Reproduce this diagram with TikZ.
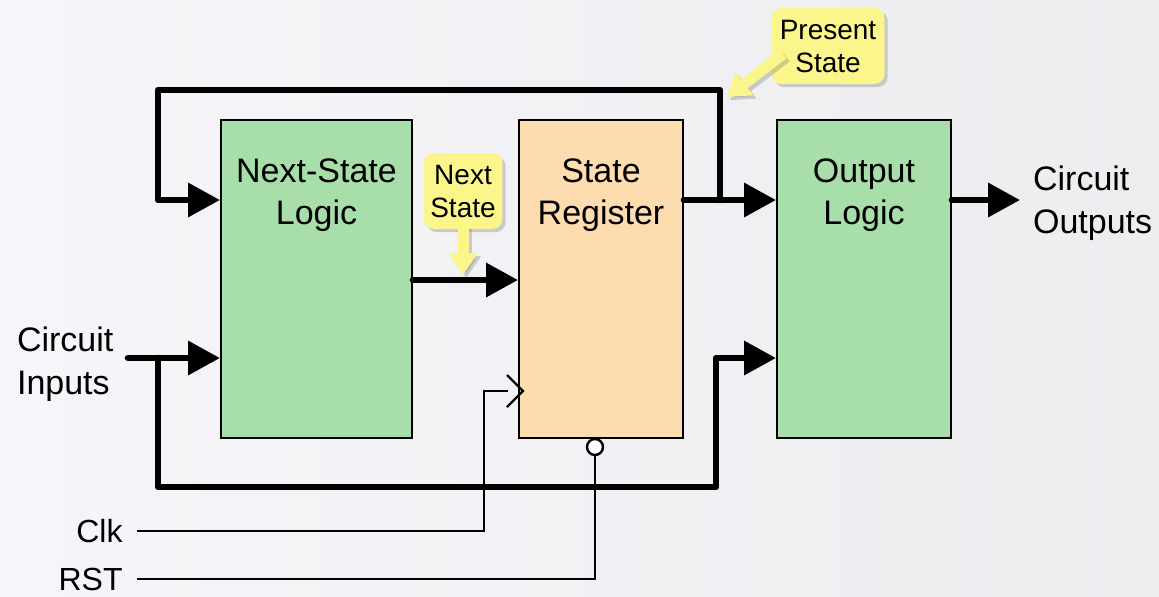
\documentclass[tikz,border=0pt]{standalone}
\usepackage{fontspec}
\setmainfont{Liberation Sans}
\usetikzlibrary{arrows.meta,shadows,positioning}

\definecolor{logicgreen}{RGB}{168,222,170}
\definecolor{regpeach}{RGB}{253,220,176}
\definecolor{notefill}{RGB}{250,246,140}
\definecolor{bgtop}{RGB}{246,246,250}
\definecolor{bgbot}{RGB}{237,237,240}

\tikzset{
  block/.style={draw=black, line width=1pt, minimum height=159pt},
  blocktext/.style={align=center, font=\fontsize{17}{21}\selectfont},
  sidetext/.style={align=left, font=\fontsize{17}{21.5}\selectfont},
  bus/.style={line width=3.3pt, line cap=round, line join=round},
  busarrow/.style={bus, -{Triangle[length=16pt,width=16.5pt]}},
  wire/.style={line width=1.2pt},
  note/.style={fill=notefill, rounded corners=5pt, align=center,
    font=\fontsize{14}{16.5}\selectfont,
    drop shadow={shadow xshift=1.6pt, shadow yshift=-1.6pt, opacity=0.35, fill=gray}},
  notearrow/.style={draw=notefill, line width=5.5pt, -{Triangle[length=11pt,width=14pt]}},
  noteshadow/.style={notearrow, draw=gray, opacity=0.35,
    transform canvas={shift={(1.6pt,-1.6pt)}}}
}

\begin{document}
\begin{tikzpicture}[x=0.5pt, y=-0.5pt]
\shade[left color=bgtop, right color=bgbot] (0,0) rectangle (1159,596);
\useasboundingbox (0,0) rectangle (1159,596);

% the three blocks
\node[block, fill=logicgreen, minimum width=95.5pt] (nsl) at (316.5,279) {};
\node[block, fill=regpeach, minimum width=82pt] (sr) at (601,279) {};
\node[block, fill=logicgreen, minimum width=87pt] (ol) at (864,279) {};
\node[blocktext] (nsltext) at (316.5,195) {Next-State\\Logic};
\node[blocktext] (srtext) at (601,195) {State\\Register};
\node[blocktext] (oltext) at (864,195) {Output\\Logic};

\coordinate (ps) at (720,200);
\coordinate (fbR) at (720,90);
\coordinate (fbL) at (158,90);
\coordinate (nsy) at (0,280);
\coordinate (inL) at (128,358);
\coordinate (inB) at (158,358);
\coordinate (loopL) at (158,487);
\coordinate (loopR) at (716,487);
\coordinate (olin) at (716,358);
\coordinate (outR) at (1020,200);

% present state and feedback
\draw[busarrow] (sr.east |- ps) -- (ol.west |- ps);
\draw[busarrow] (ps) -- (fbR) -- (fbL) -- (fbL |- ps) -- (nsl.west |- ps);
\draw[busarrow] (nsl.east |- nsy) -- (sr.west |- nsy);

% inputs
\draw[busarrow] (inL) -- (nsl.west |- inL);
\draw[busarrow] (inB) -- (loopL) -- (loopR) -- (olin) -- (ol.west |- olin);
\draw[busarrow] (ol.east |- ps) -- (outR);

\node[sidetext, anchor=west] (intext) at (10,364) {Circuit\\Inputs};
\node[sidetext, anchor=west] (outtext) at (1026,203) {Circuit\\Outputs};

% clock and reset
\node[blocktext, font=\fontsize{16}{19}\selectfont, anchor=east, inner xsep=7pt] (clk) at (137,531) {Clk};
\node[blocktext, font=\fontsize{16}{19}\selectfont, anchor=east, inner xsep=7pt] (rst) at (137,579) {RST};
\coordinate (clkc) at (484,391);
\coordinate (clkin) at (523,391);
\draw[wire] (clk.east) -- (clkc |- clk.east) -- (clkc) -- (508,391);
\draw[wire] (clkin) ++(-16,-16) -- (clkin) -- ++(-16,16);
\node[circle, draw, line width=1.2pt, fill=white, minimum size=8pt, inner sep=0pt] (bub) at (595,447) {};
\draw[wire] (rst.east) -- (bub |- rst.east) -- (bub.south);

% callouts
\node[note, minimum width=37.5pt, minimum height=38pt] (nsnote) at (463,191) {Next\\State};
\coordinate (nstip) at (463,275);
\draw[noteshadow] ([yshift=2pt]nsnote.south) -- (nstip);
\draw[notearrow] ([yshift=2pt]nsnote.south) -- (nstip);

\node[note, minimum width=56.5pt, minimum height=38pt] (psnote) at (828,46) {Present\\State};
\coordinate (pstip) at (727,97);
\draw[noteshadow] ([shift={(6pt,-4pt)}]psnote.west) -- (pstip);
\draw[notearrow] ([shift={(6pt,-4pt)}]psnote.west) -- (pstip);
\end{tikzpicture}
\end{document}
